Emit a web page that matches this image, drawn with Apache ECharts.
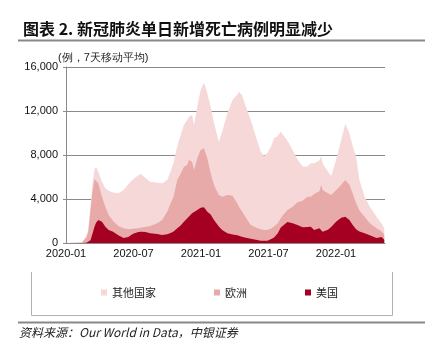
<!DOCTYPE html>
<html>
<head>
<meta charset="utf-8">
<script src="https://cdn.jsdelivr.net/npm/echarts@6/dist/echarts.min.js"></script>
<style>
html,body{margin:0;padding:0;background:#fff;}
#chart{width:431px;height:348px;}
</style>
</head>
<body>
<div id="chart"></div>
<script>
const dates = ['2020-01-22','2020-02-15','2020-03-05','2020-03-17','2020-03-22','2020-03-28','2020-04-03','2020-04-08','2020-04-12','2020-04-18','2020-04-28','2020-05-07','2020-05-16','2020-05-28','2020-06-11','2020-06-25','2020-07-08','2020-07-21','2020-08-04','2020-08-12','2020-08-23','2020-09-05','2020-09-24','2020-10-07','2020-10-21','2020-10-30','2020-11-07','2020-11-17','2020-11-26','2020-12-05','2020-12-14','2020-12-18','2020-12-27','2021-01-01','2021-01-10','2021-01-19','2021-01-28','2021-02-06','2021-02-15','2021-02-24','2021-03-09','2021-03-18','2021-04-01','2021-04-15','2021-04-28','2021-05-02','2021-05-10','2021-05-21','2021-06-03','2021-06-17','2021-06-30','2021-07-09','2021-07-18','2021-07-27','2021-08-05','2021-08-15','2021-08-23','2021-08-28','2021-09-10','2021-09-24','2021-10-07','2021-10-21','2021-11-03','2021-11-12','2021-11-21','2021-12-05','2021-12-10','2021-12-14','2021-12-28','2022-01-06','2022-01-19','2022-02-02','2022-02-13','2022-02-24','2022-03-05','2022-03-14','2022-03-23','2022-04-06','2022-04-20','2022-05-08','2022-05-22','2022-05-29'];
const usDeaths = [0,0,2,15,40,250,900,1500,1850,2090,1939,1485,1182,1030,700,450,550,850,1000,1030,1000,879,818,727,800,900,1050,1333,1600,1939,2250,2394,2697,2545,3000,3200,3242,2848,2600,2091,1500,1182,879,780,700,680,576,470,380,290,212,212,212,350,500,879,1400,1450,1900,1800,1636,1424,1450,1485,1182,1333,1300,1030,1200,1450,1939,2300,2394,2091,1636,1250,1050,879,700,450,550,300];
const europeDeaths = [0,0,28,485,960,2650,3900,4300,4120,3335,2273,1818,1363,970,850,883,700,450,350,370,450,666,970,1364,2048,2706,3162,4394,4700,5000,4841,5151,4697,4091,4697,5254,5364,4849,3733,3182,2864,3030,3485,3520,2900,2623,2324,1830,1256,1110,1038,970,988,950,1000,921,850,1050,1100,1500,2064,2426,2750,2727,3268,3367,3972,3788,3315,2914,2861,3000,3333,3209,2864,2356,1900,1515,1088,883,500,450];
const otherDeaths = [10,60,70,150,250,500,800,900,966,1055,1361,1667,2205,2600,2970,3467,4100,4500,4800,4872,4450,4028,3692,3336,2879,2894,3088,3073,3500,3788,4109,3935,4242,4091,4697,5455,5969,5909,6061,5606,4848,5909,7424,8700,9906,10454,10550,10094,9546,8267,7050,6727,7000,7400,8015,7921,7871,7500,6300,5150,3900,3100,2750,3030,2792,2800,2637,2382,1985,1736,2745,4064,5123,4670,4300,4242,2777,1818,1515,1061,700,600];
const seriesNames = ['美国','欧洲','其他国家'];
const legendOrder = ['其他国家','欧洲','美国'];
const yTicks = [0, 4000, 8000, 12000, 16000];
const titleText = '图表 2. 新冠肺炎单日新增死亡病例明显减少';
const unitText = '(例，7天移动平均)';
const sourceText = '资料来源：Our World in Data，中银证券';

const BASE = Date.UTC(2020, 0, 22);
const DAY = 86400000;
function dayOf(s) {
  const p = s.split('-').map(Number);
  return Math.round((Date.UTC(p[0], p[1]-1, p[2]) - BASE) / DAY);
}
function labelOf(v) {
  const d = new Date(BASE + v * DAY);
  const m = d.getUTCMonth() + 1;
  return d.getUTCFullYear() + '-' + (m < 10 ? '0' + m : m);
}
const xs = dates.map(dayOf);
const colors = {'美国': '#A50021', '欧洲': '#E8A9A9', '其他国家': '#F6D8D8'};
const values = {'美国': usDeaths, '欧洲': europeDeaths, '其他国家': otherDeaths};
// cumulative stacking (bottom: 美国, then 欧洲, then 其他国家)
const cumulative = {};
let running = xs.map(() => 0);
seriesNames.forEach(n => {
  running = running.map((r, i) => r + values[n][i]);
  cumulative[n] = running.map((v, i) => [xs[i], v]);
});

const chart = echarts.init(document.getElementById('chart'), null, {renderer: 'canvas'});
const labelFont = "'Liberation Sans Narrow','Liberation Sans',Arial,sans-serif";
const cjkFont = "'Noto Sans CJK SC','Noto Sans',sans-serif";
const drawOrder = ['其他国家','欧洲','美国'];
chart.setOption({
  animation: false,
  backgroundColor: '#fff',
  title: {
    text: titleText, left: 18, top: 16,
    textStyle: {fontSize: 16, fontWeight: 'bold', color: '#111', fontFamily: cjkFont}
  },
  grid: {left: 66, right: 46, top: 67, bottom: 105, containLabel: false},
  legend: {
    data: legendOrder, left: 96, top: 282, itemWidth: 6, itemHeight: 6, itemGap: 58,
    icon: 'rect',
    textStyle: {fontSize: 11, color: '#222', fontFamily: cjkFont}
  },
  xAxis: {
    type: 'value', min: 0, max: 860, interval: 182,
    axisLine: {show: true, lineStyle: {color: '#8a8a8a', width: 1}},
    axisTick: {show: false},
    splitLine: {show: false},
    axisLabel: {formatter: labelOf, fontSize: 11, color: '#111', fontFamily: labelFont, margin: 5, showMaxLabel: false}
  },
  yAxis: {
    type: 'value', min: yTicks[0], max: yTicks[yTicks.length-1], interval: 4000,
    axisLine: {show: true, lineStyle: {color: '#8a8a8a', width: 1}},
    axisTick: {show: true, length: 3, lineStyle: {color: '#8a8a8a'}},
    splitLine: {show: true, lineStyle: {color: '#8a8a8a', width: 1}},
    axisLabel: {fontSize: 11, color: '#111', fontFamily: labelFont, margin: 8,
      formatter: v => v.toString().replace(/\B(?=(\d{3})+(?!\d))/g, ',')}
  },
  series: drawOrder.map((n, k) => ({
    name: n, type: 'line', symbol: 'none', smooth: false, z: 2 + k,
    data: cumulative[n],
    lineStyle: {width: 0, color: colors[n]},
    itemStyle: {color: colors[n]},
    areaStyle: {color: colors[n], opacity: 1, origin: 'start'}
  })),
  graphic: [
    {type: 'text', left: 58, top: 52, style: {text: unitText, fontSize: 11, fill: '#222', font: "11px 'Noto Sans CJK SC'"}},
    {type: 'line', shape: {x1: 18, y1: 40.5, x2: 425, y2: 40.5}, style: {stroke: '#888', lineWidth: 2}},
    {type: 'line', shape: {x1: 18, y1: 322.5, x2: 425, y2: 322.5}, style: {stroke: '#888', lineWidth: 2}},
    {type: 'polyline', shape: {points: [[31.5, 272], [31.5, 315.5], [392.5, 315.5], [392.5, 272]]}, style: {stroke: '#b0b0b0', lineWidth: 1, fill: null}},
    {type: 'text', left: 19, top: 326, style: {text: sourceText, font: "italic 12px 'Noto Sans CJK SC', 'Liberation Sans'", fill: '#222'}}
  ]
});
</script>
</body>
</html>
